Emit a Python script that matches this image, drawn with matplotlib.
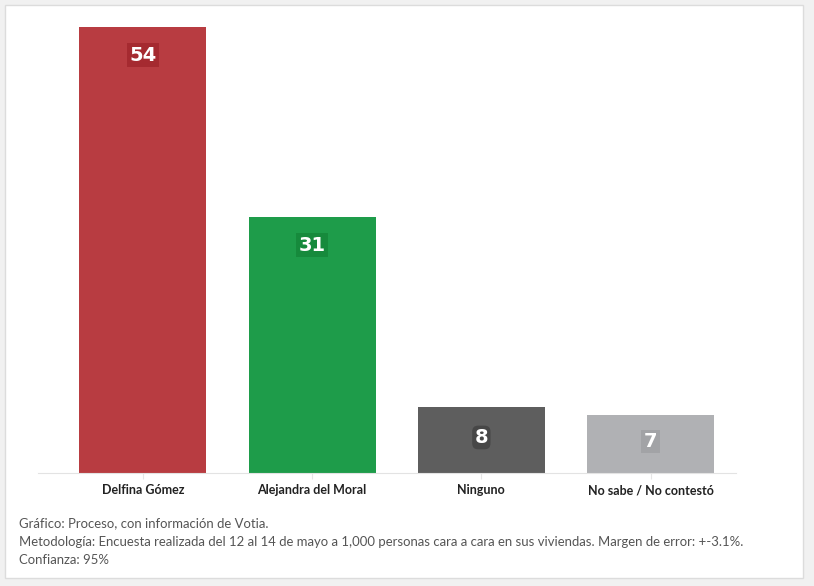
import matplotlib
matplotlib.use("Agg")
import matplotlib.pyplot as plt
from matplotlib.patches import Rectangle

categories = ["Delfina Gómez", "Alejandra del Moral", "Ninguno", "No sabe / No contestó"]
values = [54, 31, 8, 7]
bar_colors = ["#b83c41", "#1e9c4a", "#5e5e5e", "#b0b1b4"]
label_bg = ["#a52a30", "#168a3c", "#474747", "#a2a3a6"]
footer = [
    "Gráfico: Proceso, con información de Votia.",
    "Metodología: Encuesta realizada del 12 al 14 de mayo a 1,000 personas cara a cara en sus viviendas. Margen de error: +-3.1%.",
    "Confianza: 95%",
]

plt.rcParams["font.family"] = ["Lato", "DejaVu Sans"]

W, H = 814, 586
fig = plt.figure(figsize=(W / 100, H / 100), dpi=100)
fig.patch.set_facecolor("#f1f1f1")

# white card behind everything
card = Rectangle((5 / W, 8 / H), 798 / W, 573 / H, transform=fig.transFigure,
                 facecolor="white", edgecolor="#dcdcdc", lw=1, zorder=-5)
fig.patches.append(card)

ax = fig.add_axes([38 / W, 1 - 473 / H, 698 / W, 446 / H])
ax.set_zorder(2)
ax.set_facecolor("none")
x = list(range(len(categories)))
ax.bar(x, values, width=0.75, color=bar_colors, zorder=2)
ax.set_xlim(-0.62, 3.505)
ax.set_ylim(0, 54)

for xi, v, bg in zip(x, values, label_bg):
    ypos = v - 3.4 if v > 20 else v / 2 + 0.3
    style = "round,pad=0.12,rounding_size=0.3" if v == 8 else "square,pad=0.12"
    ax.text(xi, ypos, str(v), ha="center", va="center", color="white",
            fontsize=14, fontweight="bold", family=["DejaVu Sans"],
            bbox=dict(boxstyle=style, facecolor=bg, edgecolor="none"), zorder=3)

for s in ["top", "right", "left"]:
    ax.spines[s].set_visible(False)
ax.spines["bottom"].set_color("#e3e3e3")
ax.set_yticks([])
ax.set_xticks(x)
ax.set_xticklabels(categories, fontsize=9, fontweight="bold", color="#222222")
ax.tick_params(axis="x", length=4, color="#e6e6e6", pad=4)

ys = [1 - 523 / H, 1 - 542 / H, 1 - 560 / H]
for yy, line in zip(ys, footer):
    fig.text(19 / W, yy, line, fontsize=9.45, color="#555555", va="center", ha="left")

fig.savefig("out.png", dpi=100, facecolor=fig.get_facecolor())
